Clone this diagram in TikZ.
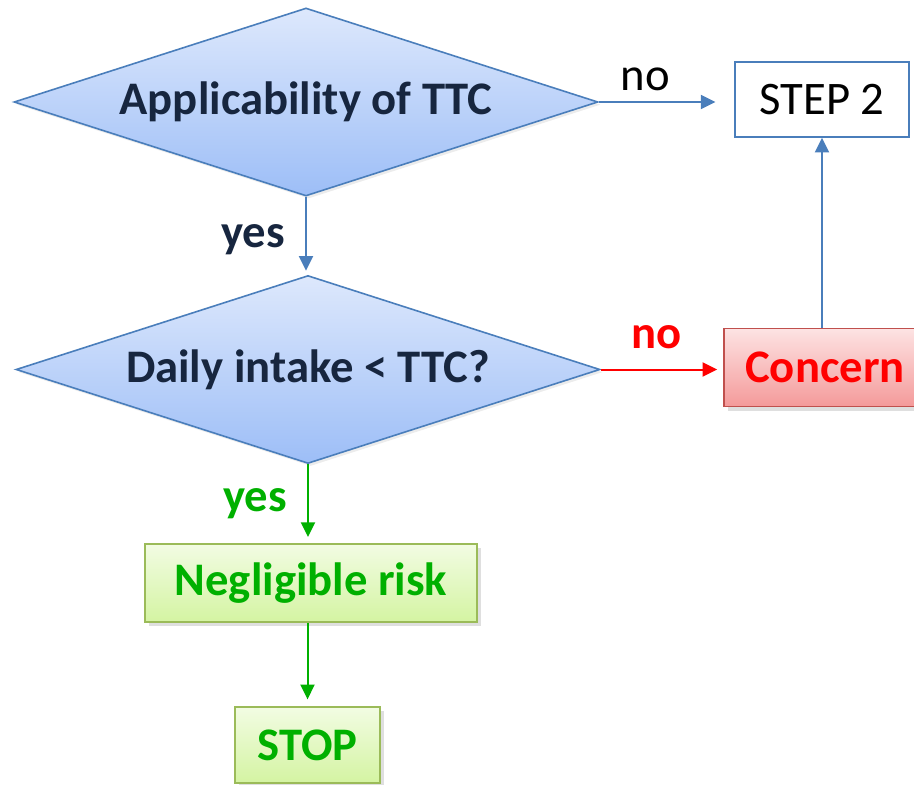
\documentclass[tikz,border=0pt]{standalone}
\usepackage{fontspec}
\setmainfont{Carlito}
\usetikzlibrary{shapes.geometric}
\usetikzlibrary{positioning}
\usetikzlibrary{arrows.meta}
\usetikzlibrary{shadows}

\definecolor{qblue}{HTML}{4A7EBB}
\definecolor{qnavy}{HTML}{17263F}
\definecolor{qtop}{HTML}{DDE8FC}
\definecolor{qbottom}{HTML}{9DBEF7}
\definecolor{okgreen}{HTML}{00B000}
\definecolor{okline}{HTML}{9BBB59}
\definecolor{oktop}{HTML}{F2FCE3}
\definecolor{okbottom}{HTML}{D4F4A2}
\definecolor{badline}{HTML}{C0504D}
\definecolor{badtop}{HTML}{FDE3E3}
\definecolor{badbottom}{HTML}{F49A9A}

\begin{document}
\begin{tikzpicture}[x=0.75pt, y=-0.75pt,
    font=\fontsize{35}{42}\selectfont,
    decision/.style={diamond, draw=qblue, line width=1.2pt, inner sep=0pt,
      minimum width=438pt, minimum height=141pt,
      top color=qtop, bottom color=qbottom,
      drop shadow={shadow xshift=2pt, shadow yshift=-2pt, opacity=0.15}},
    stepbox/.style={rectangle, draw=qblue, line width=1.2pt, fill=white,
      minimum width=130.5pt, minimum height=56.25pt},
    okbox/.style={rectangle, draw=okline, line width=1.5pt,
      top color=oktop, bottom color=okbottom,
      text=okgreen, font=\fontsize{35}{42}\selectfont\bfseries,
      drop shadow={shadow xshift=3pt, shadow yshift=-3pt, opacity=0.25}},
    badbox/.style={rectangle, draw=badline, line width=1.2pt,
      top color=badtop, bottom color=badbottom,
      text=red, font=\fontsize{35}{42}\selectfont\bfseries,
      drop shadow={shadow xshift=3pt, shadow yshift=-3pt, opacity=0.25}},
    qtext/.style={text=qnavy, font=\fontsize{35}{42}\selectfont\bfseries},
    link/.style={line width=1.5pt, -{Triangle[length=11pt, width=10.5pt]}}]

    \useasboundingbox (0,0) rectangle (914,785);

    \node[decision, label={[qtext]center:Applicability of TTC}] (app) at (306,102) {};
    \node[decision, label={[qtext]center:Daily intake < TTC?}] (daily) at (308,369.5) {};
    \node[stepbox] (step) at (822,99.5) {STEP 2};
    \node[badbox, minimum width=145.5pt, minimum height=58.5pt] (concern) at (821,367.5) {\hspace*{6pt}Concern};
    \node[okbox, minimum width=249pt, minimum height=58.5pt] (neg) at (311,583) {Negligible risk};
    \node[okbox, minimum width=108.75pt, minimum height=57pt] (stop) at (307.5,745) {STOP};

    % Connect the nodes
    \draw[link, qblue, shorten >=14pt] (app.east) -- node[above, black, inner sep=8pt, xshift=-16pt] (no1) {no} (app.east -| step.west);
    \draw[link, qblue, shorten >=3pt] (app.south) -- node[left, qtext, inner sep=15pt, pos=0.55] (yes1) {yes} (app.south |- daily.north);
    \draw[link, red, shorten >=4.5pt] (daily.east) -- node[above, text=red, font=\fontsize{35}{42}\selectfont\bfseries, inner sep=15pt, xshift=-4pt] (no2) {no} (daily.east -| concern.west);
    \draw[link, qblue] (concern.north -| step.south) -- (step.south);
    \draw[link, okgreen, shorten >=4.5pt] (daily.south) -- node[left, text=okgreen, font=\fontsize{35}{42}\selectfont\bfseries, inner sep=15pt, pos=0.5] (yes2) {yes} (daily.south |- neg.north);
    \draw[link, okgreen, shorten >=5pt] (stop.north |- neg.south) -- (stop.north);
  \end{tikzpicture}
\end{document}
